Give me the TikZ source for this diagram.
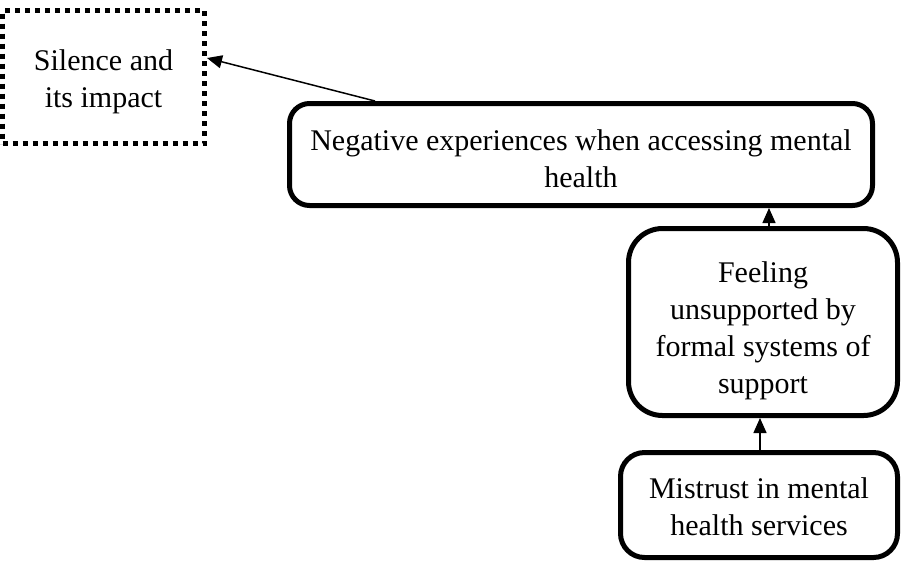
\documentclass[tikz,border=0pt]{standalone}
\usepackage{fontspec}
\setmainfont{Liberation Serif}
\usetikzlibrary{arrows.meta}
\tikzset{
  theme/.style={draw, line width=2.5pt, rounded corners=10pt, align=center,
    font=\fontsize{15}{18.5}\selectfont, inner sep=0pt},
  dotbox/.style={draw, line width=2.5pt, dash pattern=on 2.5pt off 2.5pt,
    align=center, font=\fontsize{15}{18.5}\selectfont, inner sep=0pt},
  arr/.style={-{Triangle[length=7.5pt,width=6.5pt]}, line width=0.75pt}
}
\begin{document}
\begin{tikzpicture}[x=0.5pt,y=-0.5pt]
\useasboundingbox (0,0) rectangle (906,564);
\node[dotbox, minimum width=101pt, minimum height=66.5pt, text height=34pt] (sil) at (103.5,77) {Silence and\\its impact};
\node[theme, minimum width=291.5pt, minimum height=51pt, text height=33pt] (neg) at (581,154.5) {Negative experiences when accessing mental\\health};
\node[theme, rounded corners=17pt, minimum width=134.5pt, minimum height=93.5pt, text height=75pt] (feel) at (763,322) {Feeling\\unsupported by\\formal systems of\\support};
\node[theme, rounded corners=12pt, minimum width=138.5pt, minimum height=52.5pt, text height=31pt] (mis) at (759,505) {Mistrust in mental\\health services};
\draw[arr] ([xshift=-103pt]neg.north) -- ([yshift=9.5pt]sil.east);
\draw[arr] ([xshift=3pt]feel.north) -- ([xshift=3pt]feel.north |- neg.south);
\draw[arr] ([xshift=0.5pt]mis.north) -- ([xshift=0.5pt]mis.north |- feel.south);
\end{tikzpicture}
\end{document}
